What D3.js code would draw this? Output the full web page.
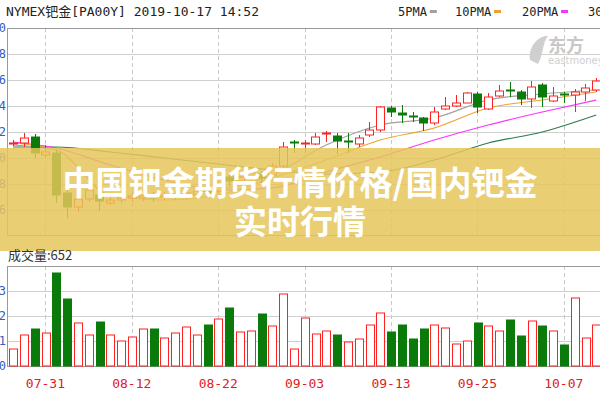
<!DOCTYPE html>
<html><head><meta charset="utf-8">
<script src="https://cdn.jsdelivr.net/npm/d3@7"></script>
<style>body{margin:0;background:#fff}svg{display:block}</style>
</head><body><svg id="c" width="600" height="400"></svg>
<script>
const dates=["07-26","07-29","07-30","07-31","08-01","08-02","08-05","08-06","08-07","08-08","08-09","08-12","08-13","08-14","08-15","08-16","08-19","08-20","08-21","08-22","08-23","08-26","08-27","08-28","08-29","08-30","09-02","09-03","09-04","09-05","09-06","09-09","09-10","09-11","09-12","09-13","09-16","09-17","09-18","09-19","09-20","09-23","09-24","09-25","09-26","09-27","09-30","10-01","10-02","10-03","10-04","10-07","10-08","10-09","10-10"];
const tickDates=["07-31","08-12","08-22","09-03","09-13","09-25","10-07"];
const open =[1628,1630,1642,1606,1610,1530,1502,1518,1526,1510,1516,1520,1520,1526,1522,1522,1524,1526,1538,1534,1562,1554,1560,1568,1566,1584,1632,1628,1628,1648,1644,1634,1628,1646,1656,1700,1690,1684,1680,1670,1698,1704,1710,1728,1698,1724,1736,1732,1718,1746,1714,1728,1726,1732,1736];
const close=[1630,1640,1610,1612,1526,1502,1518,1536,1514,1516,1520,1524,1524,1520,1526,1528,1530,1534,1530,1548,1554,1562,1570,1560,1584,1622,1630,1630,1642,1650,1634,1632,1640,1656,1702,1692,1686,1682,1670,1692,1704,1710,1730,1702,1722,1734,1734,1718,1742,1722,1724,1726,1732,1740,1754];
const high =[1636,1650,1648,1626,1616,1542,1536,1542,1536,1524,1526,1530,1528,1532,1532,1534,1536,1540,1544,1554,1568,1570,1576,1574,1590,1632,1636,1636,1650,1654,1650,1650,1646,1672,1704,1704,1706,1692,1682,1702,1722,1726,1732,1732,1730,1746,1752,1736,1754,1750,1742,1732,1738,1748,1760];
const low  =[1624,1622,1600,1600,1510,1480,1492,1512,1494,1506,1510,1512,1514,1512,1516,1516,1518,1520,1522,1528,1544,1548,1554,1550,1560,1580,1610,1610,1626,1632,1608,1610,1622,1642,1652,1682,1670,1672,1654,1666,1696,1702,1710,1690,1696,1722,1722,1706,1700,1702,1712,1710,1692,1714,1732];
const volume=[170,310,370,330,930,670,430,310,440,310,250,290,370,370,280,330,390,310,410,470,580,340,350,520,400,720,170,480,320,350,310,240,270,410,530,340,410,270,370,410,380,220,250,430,400,350,460,300,450,400,350,210,680,280,410];
const volUp=[1,1,0,1,0,0,1,1,0,1,1,1,1,0,1,1,1,1,0,1,0,1,1,0,1,1,1,1,1,1,0,1,1,1,1,0,0,0,0,1,1,1,1,0,1,1,0,0,1,0,1,0,1,1,1];
const maIdx=[0,4,9,14,19,24,29,34,39,44,49,54];
const ma5 =[1626,1616,1526,1522,1536,1566,1626,1666,1680,1716,1728,1736];
const ma10=[1630,1616,1526,1516,1526,1560,1596,1636,1660,1700,1716,1732];
const ma20=[1632,1620,1586,1556,1536,1540,1572,1602,1636,1666,1692,1716];
const ma30=[1622,1622,1612,1600,1588,1576,1568,1572,1596,1630,1652,1686];
const priceTicks=[1860,1808,1756,1704,1652,1600,1548,1496];
const volTicks=[250,500,750];

const svg=d3.select("#c");
const UP="#ff2020",DN="#0a7a0a";
const x=d3.scaleBand().domain(dates).range([7.6,601.6]).paddingInner(0.3).paddingOuter(0.15);
const xc=d=>x(d)+x.bandwidth()/2;
const y=d3.scaleLinear().domain([1446,1860]).range([235,28]);
const yv=d3.scaleLinear().domain([0,1000]).range([366,266]);

// grids
const g=svg.append("g");
g.selectAll(".hp").data(priceTicks.slice(1)).join("line").attr("x1",7).attr("x2",600).attr("y1",d=>Math.round(y(d))+.5).attr("y2",d=>Math.round(y(d))+.5).attr("stroke","#d0d0d0");
g.selectAll(".hv").data(volTicks).join("line").attr("x1",7).attr("x2",600).attr("y1",d=>Math.round(yv(d))+.5).attr("y2",d=>Math.round(yv(d))+.5).attr("stroke","#d0d0d0");
tickDates.forEach(t=>{
  [[28,235],[266,366]].forEach(r=>g.append("line").attr("x1",Math.round(xc(t))+.5).attr("x2",Math.round(xc(t))+.5).attr("y1",r[0]).attr("y2",r[1]).attr("stroke","#c8c8c8").attr("stroke-dasharray","4,3"));
});
g.append("rect").attr("x",7.5).attr("y",28.5).attr("width",600).attr("height",207).attr("fill","none").attr("stroke","#999");
g.append("rect").attr("x",7.5).attr("y",266.5).attr("width",600).attr("height",100).attr("fill","none").attr("stroke","#999");

// left labels (clipped)
svg.selectAll(".pl").data(priceTicks).join("text").attr("x",6).attr("y",d=>y(d)+4).attr("text-anchor","end").attr("font-family","DejaVu Sans Mono").attr("font-size",12).attr("fill","#3060c0").text(d=>d);
svg.selectAll(".vl").data([0].concat(volTicks)).join("text").attr("x",6).attr("y",d=>yv(d)+4).attr("text-anchor","end").attr("font-family","DejaVu Sans Mono").attr("font-size",12).attr("fill","#3060c0").text(d=>d/250);

// watermark
svg.append("text").attr("x",548).attr("y",52).attr("font-family","Noto Sans CJK SC").attr("font-weight",700).attr("font-size",18).attr("fill","#c8c8c8").text("东方");
svg.append("text").attr("x",548).attr("y",64).attr("font-family","DejaVu Sans").attr("font-size",10).attr("fill","#d0d0d0").text("eastmoney");
svg.append("path").attr("d","M530,60 C528,45 540,35 548,36 C542,44 544,52 538,64 Z").attr("fill","#cfcfcf");

// MAs
const line=d3.line().x(d=>xc(dates[d[0]])).y(d=>y(d[1])).curve(d3.curveMonotoneX);
[[ma30,"#2e7d4f"],[ma20,"#ff33ff"],[ma10,"#f0a030"],[ma5,"#a0a0a0"]].forEach(([a,c])=>{
  svg.append("path").attr("d",line(maIdx.map((k,i)=>[k,a[i]]))).attr("fill","none").attr("stroke",c).attr("stroke-width",1.2);
});

// candles
const bw=Math.round(x.bandwidth());
dates.forEach((d,i)=>{
  const up=close[i]>=open[i], col=up?UP:DN, cx=Math.round(xc(d))+.5;
  const top=y(Math.max(open[i],close[i])), bot=y(Math.min(open[i],close[i]));
  svg.append("line").attr("x1",cx).attr("x2",cx).attr("y1",y(high[i])).attr("y2",top).attr("stroke",col);
  svg.append("line").attr("x1",cx).attr("x2",cx).attr("y1",bot).attr("y2",y(low[i])).attr("stroke",col);
  svg.append("rect").attr("x",cx-bw/2).attr("y",top).attr("width",bw).attr("height",Math.max(1,bot-top))
    .attr("fill",up?"#fff":DN).attr("stroke",col);
});

// volume
dates.forEach((d,i)=>{
  const col=volUp[i]?UP:DN;
  svg.append("rect").attr("x",Math.round(x(d))+.5).attr("y",yv(volume[i])).attr("width",bw).attr("height",yv(0)-yv(volume[i]))
    .attr("fill",volUp[i]?"#fff":DN).attr("stroke",col);
});

// x labels
svg.selectAll(".xl").data(tickDates).join("text").attr("x",d=>xc(d)).attr("y",388).attr("text-anchor","middle")
  .attr("font-family","DejaVu Sans Mono").attr("font-size",13).attr("fill","#e02020").text(d=>d);

// header
svg.append("text").attr("x",6).attr("y",16).attr("font-family","DejaVu Sans Mono, Noto Sans CJK SC").attr("font-size",13).attr("fill","#222").text("NYMEX钯金[PA00Y] 2019-10-17 14:52");
const leg=[["5PMA",398,"#a0a0a0"],["10PMA",455,"#f0a030"],["20PMA",522,"#ff33ff"],["30PMA",588,"#2e7d4f"]];
leg.forEach(([t,lx,c])=>{
  svg.append("text").attr("x",lx).attr("y",16).attr("font-family","DejaVu Sans Mono").attr("font-size",12).attr("fill","#222").text(t);
  svg.append("rect").attr("x",lx+t.length*7.2+3).attr("y",10).attr("width",7).attr("height",3).attr("fill",c);
});

// banner
svg.append("rect").attr("x",0).attr("y",148).attr("width",600).attr("height",103).attr("fill","#e6c65a").attr("opacity",0.85);
svg.append("text").attr("x",8).attr("y",260).attr("font-family","Noto Sans CJK SC").attr("font-size",13).attr("fill","#333").text("成交量:652");
const bt=svg.append("g").attr("font-family","Noto Sans CJK SC").attr("font-weight",700).attr("font-size",33).attr("fill","#fff").attr("text-anchor","middle");
bt.append("text").attr("x",300).attr("y",195).text("中国钯金期货行情价格/国内钯金");
bt.append("text").attr("x",300).attr("y",234).text("实时行情");
</script></body></html>
